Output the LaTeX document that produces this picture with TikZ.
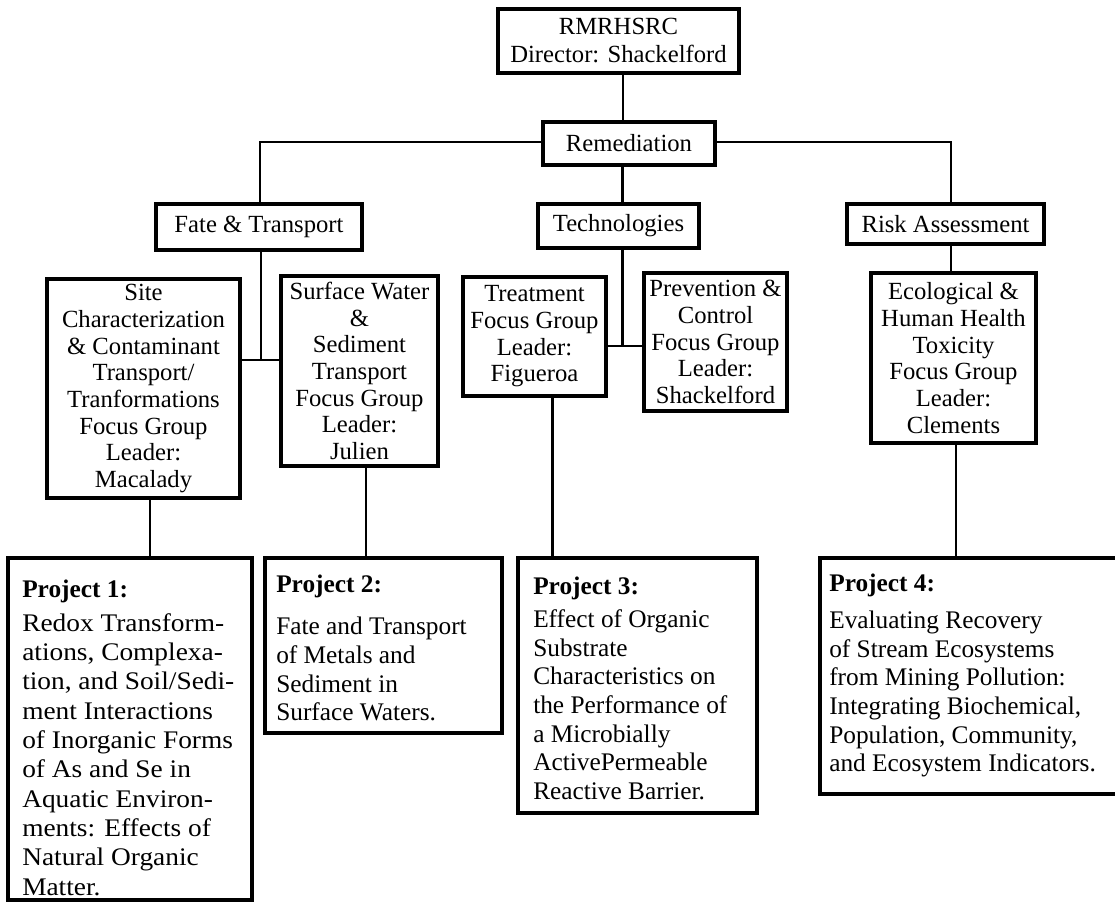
\documentclass[tikz,border=0pt]{standalone}
\usepackage{fontspec}
\setmainfont{Liberation Serif}
\newfontfamily\widefont[FakeStretch=1.08]{Liberation Serif}
\usetikzlibrary{calc}
\begin{document}
\begin{tikzpicture}[x=0.75pt,y=-0.75pt]
\tikzset{
  box/.style={draw, line width=2.4pt, inner sep=0pt, align=center,
    font=\fontsize{18.5}{20}\selectfont},
  sz/.style 2 args={minimum width=#1*0.75pt, minimum height=#2*0.75pt},
  conn/.style={line width=1.6pt},
  ptext/.style={inner sep=0pt, align=left, anchor=north west,
    font=\fontsize{19}{21.5}\selectfont},
}
\useasboundingbox (0,0) rectangle (1115,902);

% upper level
\node[box, sz={241}{64}, font=\fontsize{18.5}{21}\selectfont] (top) at (618.5,41) {RMRHSRC\\Director: Shackelford};
\node[box, sz={172}{43}] (rem) at (629,143.5) {Remediation};
\node[box, sz={206}{46}] (fate) at (259,227) {Fate \& Transport};
\node[box, sz={161}{44}] (tech) at (618.5,226) {Technologies};
\node[box, sz={197}{40}] (risk) at (945.5,224) {Risk Assessment};

% focus groups
\node[box, sz={193}{219}] (site) at (143.5,388.5) {Site\\Characterization\\\& Contaminant\\Transport/\\Tranformations\\Focus Group\\Leader:\\Macalady};
\node[box, sz={157}{190}] (surf) at (359.5,371) {Surface Water\\\&\\Sediment\\Transport\\Focus Group\\Leader:\\Julien};
\node[box, sz={143}{119}] (treat) at (534.5,336.5) {Treatment\\Focus Group\\Leader:\\Figueroa};
\node[box, sz={143}{138}] (prev) at (715.5,342) {Prevention \&\\Control\\Focus Group\\Leader:\\Shackelford};
\node[box, sz={165}{170}] (eco) at (953.5,358) {Ecological \&\\Human Health\\Toxicity\\Focus Group\\Leader:\\Clements};

% projects
\node[box, sz={244}{342}] (p1) at (130,729) {};
\node[box, sz={237}{175}] (p2) at (383.5,645.5) {};
\node[box, sz={239}{255}] (p3) at (637.5,685.5) {};
\node[box, sz={297}{236}] (p4) at (968.5,676) {};

\node[ptext, font=\fontsize{19}{22}\selectfont] (p1t) at (22,580) {\textbf{Project 1:}\\[3pt]
{\widefont Redox Transform-}\\
{\widefont ations, Complexa-}\\
{\widefont tion, and Soil/Sedi-}\\
{\widefont ment Interactions}\\
{\widefont of Inorganic Forms}\\
{\widefont of As and Se in}\\
{\widefont Aquatic Environ-}\\
{\widefont ments: Effects of}\\
{\widefont Natural Organic}\\
{\widefont Matter.}};
\node[ptext] (p2t) at (276,575) {\textbf{Project 2:}\\[10pt]
Fate and Transport\\of Metals and\\Sediment in\\Surface Waters.};
\node[ptext] (p3t) at (533,577) {\textbf{Project 3:}\\[3pt]
Effect of Organic\\Substrate\\Characteristics on\\the Performance of\\a Microbially\\ActivePermeable\\Reactive Barrier.};
\node[ptext] (p4t) at (829,574) {\textbf{Project 4:}\\[6pt]
Evaluating Recovery\\of Stream Ecosystems\\from Mining Pollution:\\Integrating Biochemical,\\Population, Community,\\and Ecosystem Indicators.};

% junction coordinates
\coordinate (v0) at (623,0);
\coordinate (hL) at (260,142);
\coordinate (hR) at (951,142);
\coordinate (vT) at (622.5,346);
\coordinate (jF) at (261,360);
\coordinate (v1) at (150,0);
\coordinate (v2) at (366,0);
\coordinate (v3) at (552.5,0);
\coordinate (v4) at (956,0);

% connectors
\draw[conn] (top.south -| v0) -- (rem.north -| v0);
\draw[conn] (rem.west |- hL) -- (hL) -- (fate.north -| hL);
\draw[conn] (rem.east |- hR) -- (hR) -- (risk.north -| hR);
\draw[conn] (rem.south -| vT) -- (tech.north -| vT);
\draw[conn] (tech.south -| vT) -- (vT);
\draw[conn] (treat.east |- vT) -- (prev.west |- vT);
\draw[conn] (fate.south -| jF) -- (jF);
\draw[conn] (site.east |- jF) -- (surf.west |- jF);
\draw[conn] (risk.south -| hR) -- (eco.north -| hR);
\draw[conn] (site.south -| v1) -- (p1.north -| v1);
\draw[conn] (surf.south -| v2) -- (p2.north -| v2);
\draw[conn] (treat.south -| v3) -- (p3.north -| v3);
\draw[conn] (eco.south -| v4) -- (p4.north -| v4);
\end{tikzpicture}
\end{document}
